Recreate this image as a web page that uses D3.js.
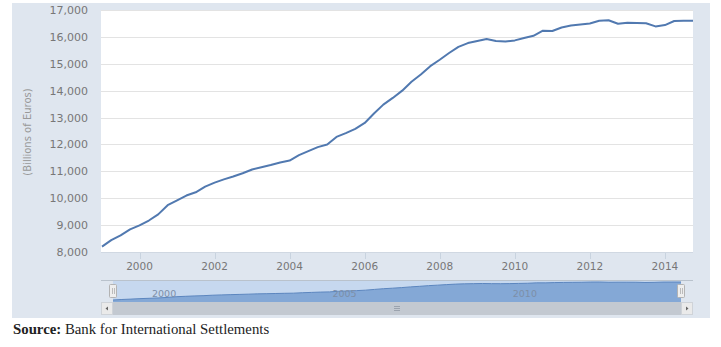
<!DOCTYPE html>
<html><head><meta charset="utf-8">
<script src="https://cdn.jsdelivr.net/npm/d3@7"></script>
<style>body{margin:0;background:#fff}svg{display:block}</style>
</head><body>
<svg id="c" width="721" height="347"></svg>
<script>
const startYear = 1999;
const values = [8200,8440,8620,8840, 8990,9170,9400,9740, 9920,10100,10220,10430,
 10580,10700,10810,10930, 11070,11150,11235,11330, 11400,11600,11750,11900,
 12000,12280,12420,12580, 12800,13150,13480,13730, 14000,14330,14600,14910,
 15150,15400,15630,15770, 15850,15920,15850,15825, 15870,15960,16040,16230,
 16220,16350,16420,16460, 16500,16600,16620,16490, 16530,16520,16505,16390,
 16440,16590,16600,16600];
const yTicks = [8000,9000,10000,11000,12000,13000,14000,15000,16000,17000];
const xTickYears = [2000,2002,2004,2006,2008,2010,2012,2014];
const navTickYears = [2000,2005,2010];
const yAxisTitle = "(Billions of Euros)";
const sourceLabel = "Source:";
const sourceText = " Bank for International Settlements";

const data = values.map((v,i)=>({date:new Date(startYear, i*3, 1), value:v}));
const svg = d3.select("#c");
const font = "DejaVu Sans, Verdana, sans-serif";

// panel
svg.append("rect").attr("x",12).attr("y",3).attr("width",698).attr("height",315).attr("fill","#dfe6ef");

const L=101, R=693, T=10, B=252;
svg.append("rect").attr("x",L).attr("y",T).attr("width",R-L).attr("height",B-T).attr("fill","#fff");

const x = d3.scaleTime().domain([new Date(1999,0,1), new Date(2014,9,1)]).range([L+1, R]);
const y = d3.scaleLinear().domain([8000,17000]).range([B, T]);

// grid
svg.append("g").selectAll("line").data(yTicks).join("line")
  .attr("x1",L).attr("x2",R).attr("y1",d=>Math.round(y(d))+0.5).attr("y2",d=>Math.round(y(d))+0.5)
  .attr("stroke","#e3e3e3").attr("stroke-width",1);

// y labels
svg.append("g").selectAll("text").data(yTicks).join("text")
  .attr("x",88).attr("y",d=>y(d)+4).attr("text-anchor","end")
  .attr("font-family",font).attr("font-size",11).attr("fill","#777")
  .text(d=>d3.format(",")(d));

svg.append("text").attr("transform","translate(31,132) rotate(-90)")
  .attr("text-anchor","middle").attr("font-family",font).attr("font-size",10).attr("fill","#999")
  .text(yAxisTitle);

// x ticks & labels
const xt = xTickYears.map(yr=>new Date(yr,0,1));
svg.append("g").selectAll("line").data(xt).join("line")
  .attr("x1",d=>Math.round(x(d))+0.5).attr("x2",d=>Math.round(x(d))+0.5)
  .attr("y1",B).attr("y2",B+7).attr("stroke","#c8d3df");
svg.append("line").attr("x1",L).attr("x2",R).attr("y1",B+0.5).attr("y2",B+0.5).attr("stroke","#d0d8e2");
svg.append("g").selectAll("text").data(xt).join("text")
  .attr("x",d=>x(d)).attr("y",270).attr("text-anchor","middle")
  .attr("font-family",font).attr("font-size",10.5).attr("fill","#777")
  .text(d=>d.getFullYear());

// line
svg.append("path").datum(data)
  .attr("d",d3.line().x(d=>x(d.date)).y(d=>y(d.value)))
  .attr("fill","none").attr("stroke","#5179b0").attr("stroke-width",2).attr("stroke-linejoin","round");

// navigator
const NL=113, NR=681, NT=280, NB=302;
const nx = d3.scaleTime().domain(x.domain()).range([NL, NR]);
const ny = d3.scaleLinear().domain(d3.extent(values)).range([300, 282]);
svg.append("line").attr("x1",L).attr("x2",R).attr("y1",NT+0.5).attr("y2",NT+0.5).attr("stroke","#b9c2cc");
svg.append("rect").attr("x",NL).attr("y",NT+1).attr("width",NR-NL).attr("height",NB-NT-1).attr("fill","#c6d8ef");
svg.append("path").datum(data)
  .attr("d",d3.area().x(d=>nx(d.date)).y0(NB).y1(d=>ny(d.value)))
  .attr("fill","#84a8d6");
svg.append("path").datum(data)
  .attr("d",d3.line().x(d=>nx(d.date)).y(d=>ny(d.value)))
  .attr("fill","none").attr("stroke","#5c86bf").attr("stroke-width",1);
const nt = navTickYears.map(yr=>new Date(yr,0,1));
svg.append("g").selectAll("text").data(nt).join("text")
  .attr("x",d=>nx(d)+3).attr("y",297)
  .attr("font-family",font).attr("font-size",9.5).attr("fill","#7d8fa8")
  .text(d=>d.getFullYear());
// handles
[NL, NR].forEach(hx=>{
  svg.append("rect").attr("x",hx-3.5).attr("y",284.5).attr("width",7).attr("height",13).attr("rx",1)
    .attr("fill","#eeeeee").attr("stroke","#b3b3b3");
  svg.append("line").attr("x1",hx-0.5).attr("x2",hx-0.5).attr("y1",288).attr("y2",294).attr("stroke","#bbb");
  svg.append("line").attr("x1",hx+1.5).attr("x2",hx+1.5).attr("y1",288).attr("y2",294).attr("stroke","#bbb");
});

// scrollbar
const ST=302, SB=315;
svg.append("rect").attr("x",L).attr("y",ST).attr("width",R-L).attr("height",SB-ST).attr("fill","#eef1f4");
svg.append("rect").attr("x",NL).attr("y",ST).attr("width",NR-NL).attr("height",SB-ST).attr("fill","#c3c9d1");
[[L,"l"],[NR,"r"]].forEach(([bx,dir])=>{
  svg.append("rect").attr("x",bx+0.5).attr("y",ST+0.5).attr("width",11).attr("height",SB-ST-1)
    .attr("fill","#eaeaea").attr("stroke","#cfd3d8");
  const cx=bx+6, cy=(ST+SB)/2;
  const p = dir==="l" ? `M${cx+1},${cy-2}L${cx-1.5},${cy}L${cx+1},${cy+2}Z` : `M${cx-1},${cy-2}L${cx+1.5},${cy}L${cx-1},${cy+2}Z`;
  svg.append("path").attr("d",p).attr("fill","#666");
});
const gx=(NL+NR)/2;
[-2,0,2].forEach(o=>svg.append("line").attr("x1",gx-3).attr("x2",gx+3)
  .attr("y1",308.5+o).attr("y2",308.5+o).attr("stroke","#9099a5").attr("stroke-width",0.8));

// source
const st = svg.append("text").attr("x",13).attr("y",334)
  .attr("font-family","Liberation Serif, Times New Roman, serif").attr("font-size",14.8).attr("fill","#222");
st.append("tspan").attr("font-weight","bold").text(sourceLabel);
st.append("tspan").attr("xml:space","preserve").text(sourceText);
</script>
</body></html>
